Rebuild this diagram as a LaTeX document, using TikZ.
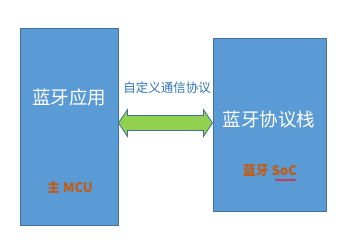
\documentclass[tikz,border=0pt]{standalone}
\usepackage{fontspec}
\newfontfamily\cjk{Noto Sans CJK SC}
\usetikzlibrary{positioning, calc, decorations.pathmorphing}

\definecolor{boxblue}{HTML}{5B9BD5}
\definecolor{boxedge}{HTML}{41719C}
\definecolor{arrowgreen}{HTML}{92D050}
\definecolor{labelblue}{HTML}{2E75B6}
\definecolor{chiporange}{HTML}{C55A11}

\tikzset{
    unit/.style={draw=boxedge, fill=boxblue, line width=1pt, inner sep=0pt},
    bigtext/.style={font=\cjk\fontsize{18.5}{20}\selectfont, text=white},
    chiptext/.style={font=\cjk\bfseries\fontsize{13}{14}\selectfont, text=chiporange}
}

\begin{document}
\begin{tikzpicture}[x=1pt, y=-1pt]

\useasboundingbox (0,0) rectangle (340,239);

% the two units
\node[unit, minimum width=98pt, minimum height=197pt] (app) at (69,127) {};
\node[unit, minimum width=113pt, minimum height=173pt] (stack) at (269.5,124.5) {};

% texts inside
\node[bigtext] (apptitle) at (69,97) {蓝牙应用};
\node[chiptext] (mcu) at (70,187) {主 MCU};
\node[bigtext] (stacktitle) at (269,120) {蓝牙协议栈};
\node[chiptext] (soc) at (270,171) {蓝牙 SoC};

% spell-check squiggle under SoC
\draw[red, line width=0.6pt, decorate, decoration={snake, amplitude=0.9pt, segment length=3pt}]
    (275,180) -- (296,180);

% protocol link
\coordinate (l) at (app.east |- 0,123);
\coordinate (r) at (stack.west |- l);
\draw[draw=boxedge, fill=arrowgreen, line width=0.8pt]
    (l) -- ++(9,-13.5) -- ++(0,6) -- ($(r)+(-9,-7.5)$) -- ++(0,-6) -- (r)
    -- ++(-9,13.5) -- ++(0,-6) -- ($(l)+(9,7.5)$) -- ++(0,6) -- cycle;

\node[font=\cjk\fontsize{12.5}{14}\selectfont, text=labelblue] (proto) at (167,88) {自定义通信协议};

\end{tikzpicture}
\end{document}
